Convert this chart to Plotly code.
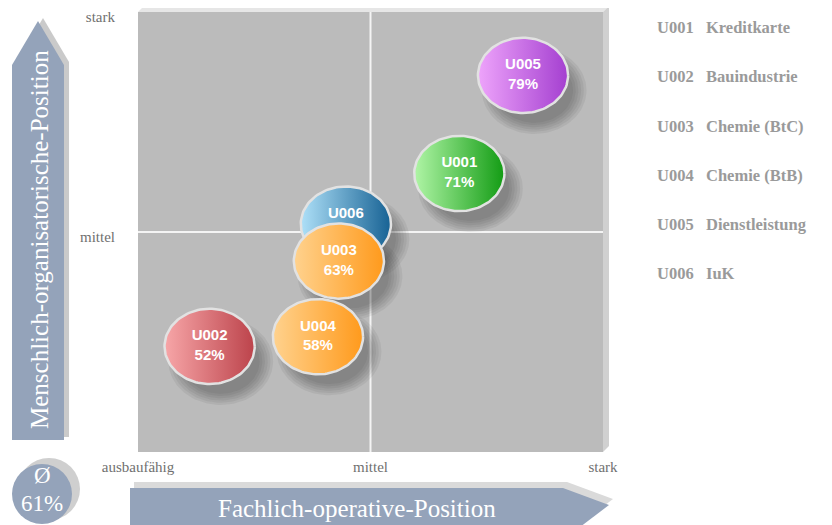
import numpy as np
import plotly.graph_objects as go

# ---------------- data ----------------
unit_ids = ["U001", "U002", "U003", "U004", "U005", "U006"]
unit_names = ["Kreditkarte", "Bauindustrie", "Chemie (BtC)", "Chemie (BtB)", "Dienstleistung", "IuK"]
fachlich = [69.1, 15.4, 43.2, 38.7, 82.8, 44.7]      # x: Fachlich-operative-Position
menschlich = [63.3, 24.0, 43.4, 26.2, 85.6, 51.8]    # y: Menschlich-organisatorische-Position
scores = [71, 52, 63, 58, 79, 43]
x_tick_vals = [0, 50, 100]
x_tick_text = ["ausbaufähig", "mittel", "stark"]
y_tick_vals = [50, 100]
y_tick_text = ["mittel", "stark"]

# ---------------- style ----------------
OFF = 8                     # page body margin of the html page
W, H = 832 - OFF, 525 - OFF
PL, PR, PT, PB = 138, 603, 12, 452   # plot area in window pixels
colors = {
    "U001": ("#B0F5A6", "#139C14"),
    "U002": ("#F7A6A8", "#BC434B"),
    "U003": ("#FFD28E", "#FF9A1C"),
    "U004": ("#FFD28E", "#FF9A1C"),
    "U005": ("#EEA4FB", "#A43FD0"),
    "U006": ("#AEE0F8", "#176294"),
}
draw_order = ["U006", "U003", "U004", "U002", "U001", "U005"]
RX, RY = 9.7, 8.55  # ellipse radii in axis units
SERIF = "Liberation Serif, Times New Roman, serif"
BLUE = "#94A3BA"


def xp(px):
    return (px - OFF) / W


def yp(py):
    return 1 - (py - OFF) / H


def path(points):
    return "M " + " L ".join(f"{xp(x):.5f},{yp(y):.5f}" for x, y in points) + " Z"


fig = go.Figure()
t = np.linspace(0, 2 * np.pi, 121)
idx = {u: i for i, u in enumerate(unit_ids)}

# soft drop shadows (stacked translucent ellipses)
for u in draw_order:
    i = idx[u]
    cx, cy = fachlich[i] + 2.4, menschlich[i] - 3.4
    for s in [1.16, 1.1, 1.04, 0.98, 0.92, 0.86]:
        fig.add_trace(go.Scatter(
            x=cx + RX * s * np.cos(t), y=cy + RY * s * np.sin(t),
            mode="lines", line=dict(width=0, color="rgba(0,0,0,0)"), fill="toself",
            fillcolor="rgba(40,40,40,0.07)", hoverinfo="skip", showlegend=False))

# bubbles
for u in draw_order:
    i = idx[u]
    cx, cy = fachlich[i], menschlich[i]
    light, dark = colors[u]
    fig.add_trace(go.Scatter(
        x=cx + RX * np.cos(t), y=cy + RY * np.sin(t),
        mode="lines", line=dict(width=2.5, color="#E2E2E2"), fill="toself",
        fillgradient=dict(type="horizontal", colorscale=[[0, light], [1, dark]]),
        hoverinfo="skip", showlegend=False))
    fig.add_trace(go.Scatter(
        x=[cx], y=[cy], mode="text", text=[f"<b>{u}<br>{scores[i]}%</b>"],
        textfont=dict(family="Arial, Liberation Sans, sans-serif", size=15, color="white"),
        hoverinfo="skip", showlegend=False))

shapes = []
# plot background with 3D edges
shapes.append(dict(type="path", xref="paper", yref="paper", layer="below",
                   path=path([(PL, PT), (PL + 6, PT - 6), (PR + 6, PT - 6), (PR, PT)]),
                   fillcolor="#E6E6E6", line=dict(width=0)))
shapes.append(dict(type="path", xref="paper", yref="paper", layer="below",
                   path=path([(PR, PT), (PR + 6, PT - 6), (PR + 6, PB - 6), (PR, PB)]),
                   fillcolor="#D0D0D0", line=dict(width=0)))
shapes.append(dict(type="rect", xref="paper", yref="paper", layer="below",
                   x0=xp(PL), x1=xp(PR), y0=yp(PB), y1=yp(PT),
                   fillcolor="#BBBBBB", line=dict(width=0)))
# centre lines
shapes.append(dict(type="line", xref="x", yref="paper", layer="below", x0=50, x1=50,
                   y0=yp(PB), y1=yp(PT), line=dict(color="#F4F4F4", width=2)))
shapes.append(dict(type="line", xref="paper", yref="y", layer="below", x0=xp(PL), x1=xp(PR),
                   y0=50, y1=50, line=dict(color="#F4F4F4", width=2)))

# left vertical arrow
left_arrow = [(12, 440), (12, 65), (38, 21), (64, 65), (64, 440)]
shapes.append(dict(type="path", xref="paper", yref="paper", layer="below",
                   path=path([(x + 5, y - 3) for x, y in left_arrow]),
                   fillcolor="#CACACA", line=dict(width=0)))
shapes.append(dict(type="path", xref="paper", yref="paper", layer="below",
                   path=path(left_arrow), fillcolor=BLUE, line=dict(width=0)))
# bottom arrow
bottom_arrow = [(130, 540), (130, 488), (563, 488), (609, 505), (563, 540)]
shapes.append(dict(type="path", xref="paper", yref="paper", layer="below",
                   path=path([(x + 4, y - 6) for x, y in bottom_arrow]),
                   fillcolor="#DADADA", line=dict(width=0)))
shapes.append(dict(type="path", xref="paper", yref="paper", layer="below",
                   path=path(bottom_arrow), fillcolor=BLUE, line=dict(width=0)))
# average disc
shapes.append(dict(type="circle", xref="paper", yref="paper", layer="below",
                   x0=xp(18), x1=xp(80), y0=yp(520), y1=yp(458),
                   fillcolor="#CFCFCF", line=dict(width=0)))
shapes.append(dict(type="circle", xref="paper", yref="paper", layer="below",
                   x0=xp(12), x1=xp(72), y0=yp(524), y1=yp(464),
                   fillcolor=BLUE, line=dict(width=0)))

annotations = []
annotations.append(dict(xref="paper", yref="paper", x=xp(39), y=yp(240), text="Menschlich-organisatorische-Position",
                        textangle=-90, showarrow=False, xanchor="center", yanchor="middle",
                        font=dict(family=SERIF, size=25, color="white")))
annotations.append(dict(xref="paper", yref="paper", x=xp(357), y=yp(508), text="Fachlich-operative-Position",
                        showarrow=False, xanchor="center", yanchor="middle",
                        font=dict(family=SERIF, size=25, color="white")))
avg = round(sum(scores) / len(scores))
annotations.append(dict(xref="paper", yref="paper", x=xp(42), y=yp(475), text="Ø",
                        showarrow=False, xanchor="center", yanchor="middle",
                        font=dict(family=SERIF, size=23, color="white")))
annotations.append(dict(xref="paper", yref="paper", x=xp(42), y=yp(503), text=f"{avg}%",
                        showarrow=False, xanchor="center", yanchor="middle",
                        font=dict(family=SERIF, size=23, color="white")))
# legend
for k, (u, n) in enumerate(zip(unit_ids, unit_names)):
    yy = 28 + k * 49
    annotations.append(dict(xref="paper", yref="paper", x=xp(655), y=yp(yy), text=f"<b>{u}</b>",
                            showarrow=False, xanchor="left", yanchor="middle",
                            font=dict(family=SERIF, size=16.5, color="#9A9A9A")))
    annotations.append(dict(xref="paper", yref="paper", x=xp(704), y=yp(yy), text=f"<b>{n}</b>",
                            showarrow=False, xanchor="left", yanchor="middle",
                            font=dict(family=SERIF, size=16.5, color="#9A9A9A")))

tick_font = dict(family=SERIF, size=15, color="#707070")
fig.update_layout(
    width=W, height=H,
    margin=dict(l=0, r=0, t=0, b=0),
    paper_bgcolor="white", plot_bgcolor="rgba(0,0,0,0)",
    showlegend=False,
    xaxis=dict(domain=[xp(PL), xp(PR)], range=[0, 100], showgrid=False, zeroline=False, showline=False,
               tickmode="array", tickvals=x_tick_vals, ticktext=x_tick_text, ticks="",
               tickfont=tick_font, ticklabelstandoff=4, ticklabeloverflow="allow",
               fixedrange=True, automargin=False),
    yaxis=dict(domain=[yp(PB), yp(PT)], range=[0, 100], showgrid=False, zeroline=False, showline=False,
               tickmode="array", tickvals=y_tick_vals, ticktext=y_tick_text, ticks="",
               tickfont=tick_font, ticklabelstandoff=22, ticklabelshift=5, ticklabeloverflow="allow",
               fixedrange=True, automargin=False),
    shapes=shapes, annotations=annotations,
)

fig.write_html("out.html")
